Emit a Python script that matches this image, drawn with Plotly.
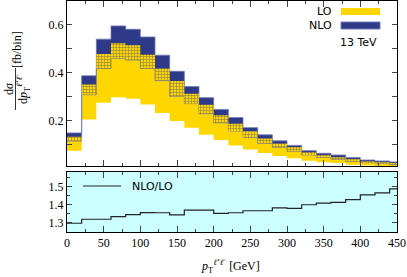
import numpy as np
import plotly.graph_objects as go

# ---------------- data ----------------
bin_edges = [0, 20, 40, 60, 80, 100, 120, 140, 160, 180, 200, 220, 240, 260,
             280, 300, 320, 340, 360, 380, 400, 420, 440, 460]
lo_low = [0.076, 0.206, 0.276, 0.299, 0.292, 0.268, 0.233, 0.200, 0.171, 0.142, 0.120, 0.097,
          0.081, 0.066, 0.054, 0.044, 0.034, 0.028, 0.024, 0.017, 0.014, 0.010, 0.008]
lo_up = [0.134, 0.352, 0.479, 0.524, 0.516, 0.476, 0.419, 0.366, 0.313, 0.267, 0.224, 0.188,
         0.158, 0.127, 0.106, 0.090, 0.069, 0.058, 0.048, 0.040, 0.032, 0.028, 0.024]
nlo_low = [0.116, 0.309, 0.419, 0.461, 0.454, 0.419, 0.368, 0.303, 0.272, 0.230, 0.192, 0.158,
           0.131, 0.107, 0.090, 0.074, 0.058, 0.048, 0.040, 0.032, 0.026, 0.022, 0.018]
nlo_up = [0.150, 0.388, 0.541, 0.596, 0.582, 0.550, 0.474, 0.407, 0.343, 0.297, 0.248, 0.214,
          0.172, 0.142, 0.117, 0.098, 0.076, 0.065, 0.058, 0.047, 0.037, 0.033, 0.029]
ratio = [1.298, 1.320, 1.320, 1.335, 1.346, 1.357, 1.356, 1.344, 1.370, 1.370, 1.352, 1.356,
         1.367, 1.367, 1.383, 1.380, 1.400, 1.409, 1.413, 1.428, 1.454, 1.465, 1.487]

x_ticks = [0, 50, 100, 150, 200, 250, 300, 350, 400, 450]

YELLOW = "#FFD700"
BLUE = "#2E3A87"
BLUE_EDGE = "#6F78B8"
CYAN = "#CCFFFF"

def step(vals):
    return list(vals) + [vals[-1]]

xs = bin_edges
ov_low = np.maximum(lo_low, nlo_low)
ov_up = np.minimum(lo_up, nlo_up)

fig = go.Figure()

def band(low, up, color, edge=None, pattern=None):
    fig.add_trace(go.Scatter(x=xs, y=step(low), mode="lines", line_shape="hv",
                             line=dict(width=0.8 if edge else 0, color=edge or color),
                             showlegend=False, hoverinfo="skip", xaxis="x", yaxis="y"))
    kw = {}
    if pattern:
        kw["fillpattern"] = pattern
    fig.add_trace(go.Scatter(x=xs, y=step(up), mode="lines", line_shape="hv",
                             line=dict(width=0.8 if edge else 0, color=edge or color),
                             fill="tonexty", fillcolor=color, showlegend=False,
                             hoverinfo="skip", xaxis="x", yaxis="y", **kw))

band(lo_low, lo_up, YELLOW)
band(nlo_low, nlo_up, BLUE, edge=BLUE_EDGE)
band(ov_low, ov_up, YELLOW,
     pattern=dict(shape="+", fgcolor=BLUE, bgcolor=YELLOW, size=3, solidity=0.4))

fig.add_trace(go.Scatter(x=xs, y=step(ratio), mode="lines", line_shape="hv",
                         line=dict(color="#222222", width=1.2), showlegend=False,
                         hoverinfo="skip", xaxis="x2", yaxis="y2"))

TICKFONT = dict(family="Liberation Serif", size=12, color="black")
axis_common = dict(showline=True, linecolor="black", linewidth=1, mirror="allticks",
                   ticks="inside", tickcolor="#444", showgrid=False, zeroline=False,
                   tickfont=TICKFONT, automargin=False)

W, H = 407, 277
L, R, T, B = 67, 10, 1, 45
ph = H - T - B
top_dom = [(232 - 166) / ph, 1.0]
bot_dom = [0.0, (232 - 172) / ph]

fig.update_layout(
    width=W, height=H, margin=dict(l=L, r=R, t=T, b=B, autoexpand=False),
    paper_bgcolor="white", plot_bgcolor="white",
    xaxis=dict(domain=[0, 1], range=[0, 450], anchor="y", tickvals=x_ticks,
               showticklabels=False, ticklen=6,
               minor=dict(dtick=25, ticks="inside", ticklen=3, tickcolor="#444"),
               **axis_common),
    yaxis=dict(domain=top_dom, range=[0.012, 0.70], anchor="x", dtick=0.2, tick0=0,
               tickformat=".1f", ticklen=5,
               minor=dict(dtick=0.1, tick0=0, ticks="inside", ticklen=5, tickcolor="#444"),
               **axis_common),
    xaxis2=dict(domain=[0, 1], range=[0, 450], anchor="y2", tickvals=x_ticks, ticklen=6,
                minor=dict(dtick=25, ticks="inside", ticklen=3, tickcolor="#444"),
                **axis_common),
    yaxis2=dict(domain=bot_dom, range=[1.25, 1.58], anchor="x2", dtick=0.1, tick0=1.3,
                tickformat=".1f", ticklen=5,
                minor=dict(dtick=0.05, tick0=1.3, ticks="inside", ticklen=3, tickcolor="#444"),
                **axis_common),
)

def px(x):
    return (x - L) / (W - L - R)

def py(y):
    return (H - B - y) / ph

shapes = [
    dict(type="rect", xref="x2 domain", yref="y2 domain", x0=0, x1=1, y0=0, y1=1,
         fillcolor=CYAN, line=dict(width=0), layer="below"),
    # legend swatches
    dict(type="rect", xref="paper", yref="paper", x0=px(341), x1=px(380), y0=py(15), y1=py(8),
         fillcolor=YELLOW, line=dict(width=0)),
    dict(type="rect", xref="paper", yref="paper", x0=px(341), x1=px(380), y0=py(29), y1=py(22),
         fillcolor=BLUE, line=dict(width=1, color=BLUE_EDGE)),
    dict(type="line", xref="paper", yref="paper", x0=px(83), x1=px(121), y0=py(186), y1=py(186),
         line=dict(color="#222222", width=1.2)),
    # y-label fraction bar
    dict(type="line", xref="paper", yref="paper", x0=px(15.5), x1=px(15.5), y0=py(68), y1=py(110),
         line=dict(color="black", width=0.8)),
]
fig.update_layout(shapes=shapes)

SANS = dict(family="DejaVu Sans", size=11, color="black")
SERIF = dict(family="Liberation Serif", size=12, color="black")
ann = [
    dict(x=px(334), y=py(11.5), text="LO", xanchor="right", yanchor="middle", font=SANS),
    dict(x=px(334), y=py(25.5), text="NLO", xanchor="right", yanchor="middle", font=SANS),
    dict(x=px(358), y=py(43), text="13 TeV", xanchor="center", yanchor="middle", font=SANS),
    dict(x=px(130), y=py(186), text="NLO/LO", xanchor="left", yanchor="middle", font=SANS),
    dict(x=px(9), y=py(89), text="d<i>σ</i>", textangle=-90, xanchor="center",
         yanchor="middle", font=SERIF),
    dict(x=px(23), y=py(89), text="d<i>p</i><sub>T</sub><sup><i>ℓ</i>⁺<i>ℓ</i>⁻</sup>",
         textangle=-90, xanchor="center", yanchor="middle", font=SERIF),
    dict(x=px(17), y=py(50), text="[fb/bin]", textangle=-90, xanchor="center",
         yanchor="middle", font=SERIF),
    dict(x=px(230), y=py(266), text="<i>p</i><sub>T</sub><sup><i>ℓ</i>⁺<i>ℓ</i>⁻</sup> [GeV]",
         xanchor="center", yanchor="middle", font=SERIF),
]
for a in ann:
    a.update(xref="paper", yref="paper", showarrow=False)
fig.update_layout(annotations=ann)

fig.write_html("out.html", config={"displayModeBar": False, "staticPlot": True},
               post_script="document.body.style.margin='0';document.body.style.overflow='hidden';")
